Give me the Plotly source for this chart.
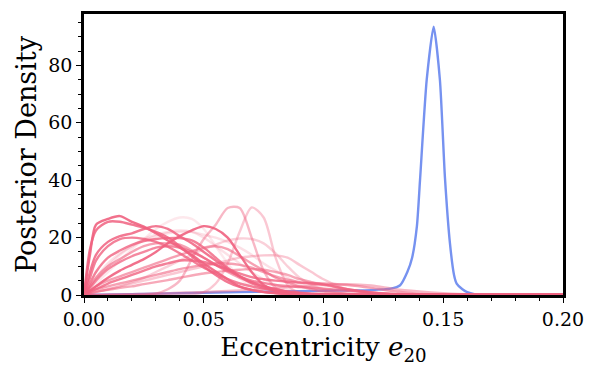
import plotly.graph_objects as go

# shared eccentricity grid for the pink posteriors
E = [0, 0.0025, 0.005, 0.01, 0.015, 0.02, 0.025, 0.03, 0.035, 0.04, 0.045, 0.05,
     0.055, 0.06, 0.065, 0.07, 0.075, 0.08, 0.085, 0.09, 0.095, 0.1, 0.11, 0.12,
     0.13, 0.14, 0.15, 0.16, 0.2]

P1 = [0, 14, 24.5, 26.5, 27.5, 25.5, 23.8, 21.5, 19, 16.5, 14, 11, 8.2, 5.5, 3, 1.8, 1.0, 0.6, 0.3, 0.2, 0.1, 0.05, 0, 0, 0, 0, 0, 0, 0]
P2 = [0, 16, 22.5, 25.5, 25.5, 24.5, 23.5, 22, 20, 17, 13.5, 10, 7, 4.5, 2.8, 1.7, 1.1, 0.7, 0.4, 0.2, 0.1, 0.05, 0, 0, 0, 0, 0, 0, 0]
P3 = [0, 8, 14, 18.5, 20.5, 21.5, 23, 24, 23, 20.5, 18, 15, 12, 9, 6.5, 4.5, 3, 2, 1.2, 0.6, 0.3, 0.1, 0, 0, 0, 0, 0, 0, 0]
P4 = [0, 4, 8, 13, 15.5, 17.5, 18.8, 19.5, 19.8, 19.8, 19, 16.5, 13, 9.5, 6.5, 4, 2.6, 1.5, 0.9, 0.5, 0.3, 0.1, 0, 0, 0, 0, 0, 0, 0]
P5 = [0, 2.5, 5, 9, 11.5, 13.5, 15, 16.5, 17, 16.5, 15, 13, 10.5, 8.5, 6.5, 5, 4.2, 3.5, 3.1, 2.8, 2.5, 2.2, 1.5, 0.8, 0.3, 0.1, 0, 0, 0]
P6 = [0, 3, 5.5, 10, 14, 17, 19.5, 21, 22, 22.5, 22, 20, 17, 14, 11, 8, 5.5, 3.5, 2.2, 1.2, 0.6, 0.3, 0, 0, 0, 0, 0, 0, 0]
P7 = [0, 6, 12, 17, 19.5, 20, 19.5, 18.5, 16.8, 14.5, 12, 9.5, 7.5, 5.5, 4, 3, 2.2, 1.5, 1, 0.6, 0.3, 0.15, 0, 0, 0, 0, 0, 0, 0]
P8 = [0, 1.5, 3, 5, 6.5, 8, 9.5, 11, 12.5, 14, 15.3, 16.5, 17, 16, 13.5, 11, 8.5, 6, 4.3, 3, 2, 1.2, 0.4, 0.1, 0, 0, 0, 0, 0]
P9 = [0, 1.5, 2, 3, 4, 5, 6, 7, 8, 9, 9.8, 10.5, 11, 11, 10.5, 9.5, 8, 6.5, 5.3, 4.5, 4.2, 4, 3.5, 2.5, 1.2, 0.4, 0.1, 0, 0]
P10 = [0, 3, 6, 11, 14.5, 17, 19, 20.5, 21.5, 22, 22, 21, 20, 18.5, 16.5, 14, 11, 8.5, 6, 4, 2.5, 1.5, 0.4, 0.1, 0, 0, 0, 0, 0]
P11 = [0, 3, 6, 10, 12.5, 15, 17, 18, 18, 17.5, 15.5, 13, 10.5, 8, 6, 4.5, 3.2, 2, 1.3, 0.8, 0.5, 0.3, 0.1, 0, 0, 0, 0, 0, 0]
P12 = [0, 0.7, 1.2, 1.8, 2.5, 3, 3.8, 4.5, 5.2, 6, 6.8, 7.5, 8, 8.5, 8.8, 9, 8.8, 8, 7, 5.5, 4.5, 3.5, 2, 1, 0.3, 0.1, 0, 0, 0]
PC = [0, 1.5, 3, 6, 8.5, 10.5, 12.5, 15, 18, 20.5, 22.5, 24, 23, 20, 14, 8, 3.5, 1.5, 0.7, 0.3, 0.1, 0, 0, 0, 0, 0, 0, 0, 0]
PE = [0, 0, 0, 0, 0, 0, 0.1, 0.5, 2, 5, 12.5, 19.5, 24.5, 30.3, 30.3, 20, 8.5, 2.5, 1, 0.3, 0.1, 0, 0, 0, 0, 0, 0, 0, 0]
PF = [0, 0, 0, 0, 0, 0, 0, 0, 0, 0, 0.3, 1, 4, 11, 22, 30.5, 27, 13, 3.5, 0.7, 0.1, 0, 0, 0, 0, 0, 0, 0, 0]
PG = [0, 2, 4, 8, 12, 16, 19.5, 23, 25.5, 27, 26.5, 23, 17, 11, 6, 3, 1.5, 0.8, 0.3, 0.1, 0, 0, 0, 0, 0, 0, 0, 0, 0]
PH = [0, 0.5, 1, 2, 3, 4.5, 6, 8, 10, 12, 14, 16, 17.5, 19, 19.7, 19.5, 18, 14.5, 10, 6, 3.5, 2, 0.5, 0.1, 0, 0, 0, 0, 0]
PI = [0, 0.5, 1, 2, 3, 4, 5, 6, 7, 8, 9, 10, 11, 12, 13, 13.5, 13.8, 13.8, 13, 10.5, 8, 5.5, 2, 0.7, 0.2, 0, 0, 0, 0]
PJ = [0, 0, 0, 0.1, 0.2, 0.3, 0.4, 0.5, 0.6, 0.8, 0.9, 1, 1.2, 1.4, 1.6, 1.8, 2.1, 2.5, 2.8, 3, 3.3, 3.5, 3.8, 3.3, 2, 1.2, 0.6, 0.2, 0]
PK = [0, 1, 2, 4, 5.5, 7, 8.5, 10, 11, 12, 12, 11.5, 10.5, 9, 7.5, 6.2, 5.5, 5, 4.6, 4.3, 4, 3.7, 2, 0.8, 0.3, 0.1, 0, 0, 0]

# blue (e20 of the comparison posterior)
BLUE_E = [0, 0.02, 0.05, 0.08, 0.1, 0.12, 0.128, 0.132, 0.135, 0.137, 0.139, 0.1403,
          0.1431, 0.146, 0.1486, 0.1507, 0.1528, 0.1545, 0.1556, 0.158, 0.16, 0.163, 0.17, 0.2]
BLUE_D = [0, 0.3, 0.8, 1.2, 1.5, 1.7, 2.2, 3.4, 8, 13, 24, 40,
          75, 93.5, 75, 41, 18, 7, 4, 2, 1, 0.3, 0, 0]

X_TICKS = [0, 0.05, 0.10, 0.15, 0.20]
Y_TICKS = [0, 20, 40, 60, 80]

PINK = "240,98,128"
pink_series = [
    (P9, 0.6), (P12, 0.55), (P8, 0.6), (P11, 0.6), (PJ, 0.45), (PI, 0.35), (PH, 0.3),
    (P6, 0.2), (P10, 0.2), (PG, 0.15), (PE, 0.45), (PF, 0.35),
    (P5, 0.75), (PK, 0.8), (P4, 0.8), (P7, 0.8), (P3, 0.85), (PC, 0.9), (P2, 0.85), (P1, 0.9),
]

fig = go.Figure()
fig.add_trace(go.Scatter(x=BLUE_E, y=BLUE_D, mode="lines",
                         line=dict(color="rgb(118,146,240)", width=2.4, shape="spline", smoothing=0.6),
                         showlegend=False))
for ys, a in pink_series:
    fig.add_trace(go.Scatter(x=E, y=ys, mode="lines",
                             line=dict(color=f"rgba({PINK},{a})", width=2.4, shape="spline", smoothing=0.8),
                             showlegend=False))

font_family = "DejaVu Serif, Liberation Serif, serif"
fig.update_layout(
    width=597, height=379,
    margin=dict(l=84, r=34, t=11, b=84),
    paper_bgcolor="white", plot_bgcolor="white",
    font=dict(family=font_family, color="black", size=19),
    xaxis=dict(range=[0, 0.2], tickvals=X_TICKS, tickformat=".2f",
               showgrid=False, zeroline=False, showline=True, linecolor="black", linewidth=2.5,
               mirror=True, ticks="outside", ticklen=5, tickwidth=1.2, tickcolor="black",
               minor=dict(dtick=0.01, ticks="outside", ticklen=3, tickwidth=1, tickcolor="black"),
               tickfont=dict(size=19),
               title=dict(text="Eccentricity <i>e</i><sub>20</sub>", font=dict(size=26), standoff=10)),
    yaxis=dict(range=[0, 97.9], tickvals=Y_TICKS,
               showgrid=False, zeroline=False, showline=True, linecolor="black", linewidth=2.5,
               mirror=True, ticks="outside", ticklen=5, tickwidth=1.2, tickcolor="black",
               minor=dict(dtick=5, ticks="outside", ticklen=3, tickwidth=1, tickcolor="black"),
               tickfont=dict(size=19),
               title=dict(text="Posterior Density", font=dict(size=27), standoff=4)),
)
fig.write_html("out.html", config={"displayModeBar": False})

# remove the default page margin so the figure sits at the window origin
with open("out.html", "r", encoding="utf-8") as fh:
    html = fh.read()
html = html.replace("<body>", '<body style="margin:0;padding:0;">', 1)
with open("out.html", "w", encoding="utf-8") as fh:
    fh.write(html)
